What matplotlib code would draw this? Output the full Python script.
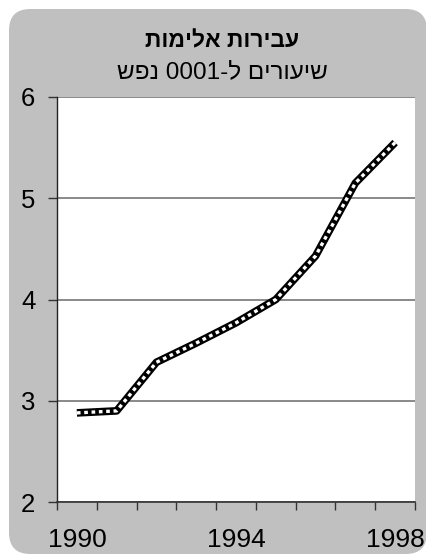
import matplotlib
matplotlib.use("Agg")
import matplotlib.pyplot as plt
from matplotlib.patches import FancyBboxPatch

plt.rcParams['font.family'] = ['Liberation Sans', 'DejaVu Sans']

years = [1990, 1991, 1992, 1993, 1994, 1995, 1996, 1997, 1998]
rates = [2.88, 2.90, 3.38, 3.57, 3.77, 4.00, 4.43, 5.15, 5.55]
yticks = [2, 3, 4, 5, 6]
xlabels_shown = [1990, 1994, 1998]
title_text = "עבירות אלימות"
subtitle_text = "שיעורים ל-1000 נפש"

W, H = 427, 558
fig = plt.figure(figsize=(W / 100, H / 100), dpi=100)
fig.patch.set_facecolor('white')

# gray rounded background
bg = FancyBboxPatch((9 / W, 4 / H), (427 - 9) / W, (549 - 4) / H,
                    boxstyle="round,pad=0,rounding_size=0.05",
                    transform=fig.transFigure, facecolor='#c0c0c0',
                    edgecolor='none', zorder=-10, mutation_aspect=W / H)
fig.patches.append(bg)

ax = fig.add_axes([57 / W, 1 - 502 / H, (415 - 57) / W, (502 - 97) / H])
ax.set_zorder(1)
ax.set_facecolor('white')

x = list(range(len(years)))
ax.plot(x, rates, color='black', lw=5.5, solid_capstyle='butt', zorder=3)
ax.plot(x, rates, color='white', lw=2.4, dashes=(1.1, 1.1), zorder=4)

ax.set_xlim(-0.5, len(years) - 0.5)
ax.set_ylim(2, 6)
ax.set_yticks(yticks)
ax.set_yticklabels([str(v) for v in yticks], fontsize=18.5)
ax.yaxis.grid(True, color='#808080', lw=1.3)
ax.set_axisbelow(True)

ax.set_xticks([i - 0.5 for i in range(len(years) + 1)])
ax.set_xticklabels([])
ax.set_xticks([years.index(y) for y in xlabels_shown], minor=True)
ax.set_xticklabels([str(y) for y in xlabels_shown], minor=True, fontsize=19)
ax.tick_params(axis='x', which='major', direction='out', length=6, width=1, color='#333333')
ax.tick_params(axis='x', which='minor', length=0, pad=19)
ax.tick_params(axis='y', direction='out', length=6.5, width=1, color='#333333', pad=9)

for s in ['top', 'right']:
    ax.spines[s].set_visible(False)
ax.spines['left'].set_color('#222222')
ax.spines['bottom'].set_color('#333333')
ax.spines['left'].set_linewidth(1)
ax.spines['bottom'].set_linewidth(1.2)

fig.text(222 / W, 1 - 41 / H, title_text[::-1], ha='center', va='center',
         fontsize=16.5, fontweight='bold')
fig.text(222 / W, 1 - 72 / H, subtitle_text[::-1], ha='center', va='center',
         fontsize=17.5)

fig.savefig('out.png', dpi=100)
